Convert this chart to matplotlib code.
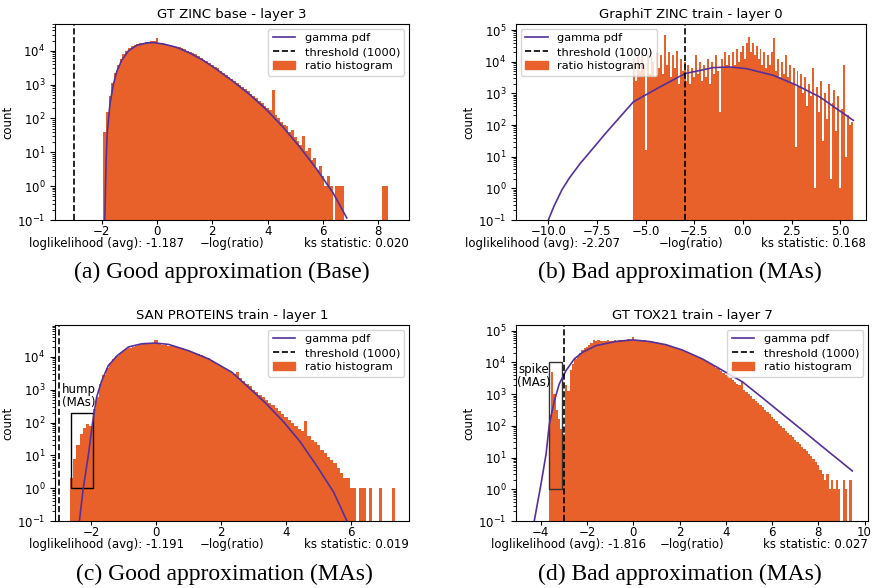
import numpy as np
import matplotlib
matplotlib.use("Agg")
import matplotlib.pyplot as plt
from matplotlib.patches import Rectangle, Patch
from matplotlib.lines import Line2D

# --- Histogram counts (bins of width 0.1, first bin centre given) ---
BIN_W = 0.1

a_first = -1.9
a_counts = [40, 150, 450, 1100, 2200, 3800, 5800, 8000, 10000, 12000,
            13500, 15000, 16000, 17000, 17500, 18000, 18500, 19000, 19500, 24000,
            17400, 16600, 15800, 15100, 14500, 13800, 13200, 12600, 11700, 11000,
            10000, 9300, 8500, 7800, 6900, 6200, 5500, 4900, 4400, 3800,
            3300, 3000, 2600, 2200, 1950, 1700, 1500, 1300, 1120, 980,
            830, 720, 630, 540, 460, 390, 330, 280, 240, 200,
            175, 700, 130, 100, 80, 65, 60, 40, 45, 28,
            22, 16, 30, 11, 13, 6, 7, 3, 4, 2,
            1, 2, 1, 0, 1, 1, 1, 0, 0, 0,
            0, 0, 0, 0, 0, 0, 0, 0, 0, 0,
            0, 1, 1]

b_first = -5.6
b_counts = [12600, 2500, 15800, 5000, 20000, 7900, 16, 15800, 4000, 20000,
            10000, 3200, 20000, 6300, 15800, 4000, 71000, 7900, 20000, 3200,
            15800, 6300, 22400, 2000, 12600, 5000, 10000, 2500, 7900, 2000,
            6300, 3200, 15800, 4000, 10000, 2500, 7900, 3200, 12600, 2000,
            10000, 4000, 15800, 5000, 250, 12600, 6300, 20000, 7900, 15800,
            6300, 20000, 7900, 25100, 10000, 20000, 31600, 12600, 39800, 60300,
            20000, 39800, 15800, 31600, 12600, 25100, 7900, 20000, 6300, 15800,
            7900, 20000, 56200, 5000, 12600, 3200, 10000, 4000, 15800, 3200,
            7900, 2000, 6300, 20, 5000, 1600, 4000, 1000, 3200, 400,
            2000, 800, 6300, 1, 1600, 250, 2500, 32, 1000, 160,
            2000, 2, 500, 1260, 63, 800, 1, 320, 7900, 10,
            200, 100, 126]

c_first = -2.6
c_counts = [2, 8, 20, 45, 70, 90, 80, 250, 600, 1500,
            2800, 4500, 6500, 8500, 10500, 13000, 15500, 17000, 19000, 20500,
            22000, 23000, 24000, 24500, 25000, 25500, 32000, 24000, 23000, 22500,
            21500, 21000, 20000, 19000, 18000, 16500, 15500, 14000, 13000, 12000,
            11000, 10000, 9000, 8000, 7000, 6200, 5400, 4700, 4100, 3600,
            3100, 3500, 2200, 1800, 1500, 1250, 1000, 850, 700, 580,
            480, 400, 330, 270, 220, 180, 150, 120, 100, 80,
            65, 55, 110, 40, 30, 25, 20, 15, 12, 9,
            7, 6, 4, 3, 2, 2, 1, 1, 0, 1,
            1, 0, 1, 0, 0, 1, 0, 0, 0, 1]

d_first = -3.6
d_counts = [220, 5000, 1000, 320, 160, 80, 56, 2000, 1260, 5600,
            8900, 12600, 15800, 20000, 25100, 28200, 31600, 35500, 39800, 52500,
            47900, 50100, 45700, 47900, 45700, 50100, 47900, 49000, 50100, 47900,
            51300, 50100, 52500, 50100, 53700, 50100, 63100, 52500, 50100, 51300,
            49000, 50100, 47900, 46800, 45700, 44700, 42700, 41700, 39800, 38000,
            37200, 35500, 33100, 31600, 29500, 28200, 26300, 25100, 23400, 21900,
            20000, 18600, 17400, 15800, 14800, 13500, 12600, 11500, 10500, 9500,
            8500, 7600, 6800, 6000, 5200, 4700, 4100, 3600, 3200, 2800,
            2400, 2100, 2000, 2500, 1400, 1200, 1000, 850, 720, 620,
            520, 450, 380, 320, 270, 230, 190, 160, 140, 115,
            98, 83, 71, 60, 50, 43, 36, 30, 26, 22,
            18, 16, 13, 11, 9, 7, 6, 4, 3, 2,
            3, 1, 2, 1, 2, 1, 0, 2, 1, 0,
            2]

# --- Fitted gamma pdf ---
a_gamma_x = [-1.89, -1.84, -1.80, -1.70, -1.58, -1.46, -1.28, -1.04, -0.73, -0.37,
             -0.13, 0.23, 0.71, 1.19, 1.67, 2.16, 2.76, 3.36, 3.96, 4.57,
             5.17, 5.77, 6.37, 6.86]
a_gamma_y = [0.1, 6.3, 40, 280, 1000, 2400, 5200, 9800, 14500, 17000,
             17400, 15800, 12600, 8500, 5200, 2800, 1230, 500, 180, 54,
             14, 3.2, 0.62, 0.115]

b_gamma_x = [-10.0, -9.7, -9.3, -8.9, -8.37, -7.0, -5.63, -4.26, -2.98, -1.52,
             -0.67, 0.19, 1.56, 2.76, 3.96, 5.67]
b_gamma_y = [0.1, 0.28, 0.9, 2.2, 6.0, 60, 540, 1600, 4200, 6500,
             6800, 6000, 3700, 1800, 760, 140]

c_gamma_x = [-2.36, -2.24, -2.08, -1.96, -1.83, -1.67, -1.47, -1.19, -0.85, -0.44,
             -0.03, 0.38, 0.99, 1.61, 2.33, 2.99, 3.41, 3.92, 4.43, 4.94,
             5.46, 5.87]
c_gamma_y = [0.1, 1.0, 10.7, 89, 590, 1900, 5400, 11000, 20000, 25000,
             26300, 24000, 15500, 8700, 3400, 870, 355, 105, 26, 4.8,
             0.76, 0.1]

d_gamma_x = [-4.28, -3.99, -3.77, -3.63, -3.41, -3.20, -2.91, -2.55, -2.19, -1.61,
             -0.75, -0.03, 0.69, 1.41, 2.13, 2.99, 3.86, 4.72, 5.59, 6.45,
             7.32, 8.18, 9.47]
d_gamma_y = [0.1, 1.45, 12.9, 112, 620, 2100, 5500, 12900, 20900, 33900,
             45700, 51300, 45700, 36300, 24500, 12900, 5600, 2450, 760, 235,
             72, 22, 3.8]

titles = ["GT ZINC base - layer 3", "GraphiT ZINC train - layer 0",
          "SAN PROTEINS train - layer 1", "GT TOX21 train - layer 7"]
loglik = ["-1.187", "-2.207", "-1.191", "-1.816"]
ks_stat = ["0.020", "0.168", "0.019", "0.027"]
captions = ["(a) Good approximation (Base)", "(b) Bad approximation (MAs)",
            "(c) Good approximation (MAs)", "(d) Bad approximation (MAs)"]

THRESHOLD = -3.0
HIST_COLOR = "#e9612a"
GAMMA_COLOR = "#55309a"
FS = 8.5


def draw_panel(ax, first, counts, gx, gy, title, ll, ks, xlim, ylim, xticks,
               leg_loc, left_txt_x):
    counts = np.asarray(counts, dtype=float)
    left_edges = first - BIN_W / 2 + BIN_W * np.arange(len(counts))
    ax.set_yscale("log")
    ax.bar(left_edges, counts, width=BIN_W, align="edge", color=HIST_COLOR,
           linewidth=0)
    ax.plot(gx, gy, color=GAMMA_COLOR, lw=1.2)
    ax.axvline(THRESHOLD, color="black", linestyle="--", lw=1.2)

    ax.set_xlim(*xlim)
    ax.set_ylim(*ylim)
    ax.set_xticks(xticks)
    ax.tick_params(labelsize=FS)
    ax.tick_params(axis="x", which="major", length=3, pad=0.5)
    ax.set_title(title, fontsize=9.5, pad=4)
    ax.set_ylabel("count", fontsize=FS, labelpad=2)

    handles = [Line2D([], [], color=GAMMA_COLOR, lw=1.2),
               Line2D([], [], color="black", linestyle="--", lw=1.2),
               Patch(color=HIST_COLOR)]
    ax.legend(handles, ["gamma pdf", "threshold (1000)", "ratio histogram"],
              loc=leg_loc, fontsize=8.2, labelspacing=0.35, borderaxespad=0.4)

    # statistics row under the axis
    ax.text(left_txt_x, -0.118, f"loglikelihood (avg): {ll}", transform=ax.transAxes,
            ha="left", va="center", fontsize=FS)
    ax.text(0.5, -0.118, "\u2212log(ratio)", transform=ax.transAxes,
            ha="center", va="center", fontsize=FS)
    ax.text(1.0, -0.118, f"ks statistic: {ks}", transform=ax.transAxes,
            ha="right", va="center", fontsize=FS)


W, H = 872, 588
fig = plt.figure(figsize=(W / 100, H / 100), dpi=100)

ax_a = fig.add_axes([55 / W, 1 - 220 / H, 354 / W, 196 / H])
ax_b = fig.add_axes([516 / W, 1 - 220 / H, 350 / W, 196 / H])
ax_c = fig.add_axes([55 / W, 1 - 521 / H, 354 / W, 196 / H])
ax_d = fig.add_axes([516 / W, 1 - 521 / H, 352 / W, 196 / H])

draw_panel(ax_a, a_first, a_counts, a_gamma_x, a_gamma_y, titles[0], loglik[0], ks_stat[0],
           (-3.69, 9.11), (0.1, 10 ** 4.79), [-2, 0, 2, 4, 6, 8], "upper right", -0.073)
draw_panel(ax_b, b_first, b_counts, b_gamma_x, b_gamma_y, titles[1], loglik[1], ks_stat[1],
           (-11.66, 6.32), (0.1, 10 ** 5.19), [-10, -7.5, -5, -2.5, 0, 2.5, 5], "upper left", -0.146)
draw_panel(ax_c, c_first, c_counts, c_gamma_x, c_gamma_y, titles[2], loglik[2], ks_stat[2],
           (-3.11, 7.78), (0.1, 10 ** 4.97), [-2, 0, 2, 4, 6], "upper right", -0.073)
draw_panel(ax_d, d_first, d_counts, d_gamma_x, d_gamma_y, titles[3], loglik[3], ks_stat[3],
           (-5.07, 10.15), (0.1, 10 ** 5.18), [-4, -2, 0, 2, 4, 6, 8, 10], "upper right", -0.071)

# annotation boxes marking the massive activations
ax_c.add_patch(Rectangle((-2.62, 1), 0.67, 199, fill=False, edgecolor="black", lw=1))
ax_c.text(-2.39, 250, "hump\n(MAs)", ha="center", va="bottom", fontsize=FS, linespacing=1.0)
ax_d.add_patch(Rectangle((-3.66, 1), 0.58, 9999, fill=False, edgecolor="#333333", lw=1))
ax_d.text(-4.32, 3800, "spike\n(MAs)", ha="center", va="center", fontsize=FS, linespacing=1.0)

# sub-figure captions
cap_pos = [(222, 272), (680, 272), (224, 574), (680, 574)]
for (cx, cy), cap in zip(cap_pos, captions):
    fig.text(cx / W, 1 - cy / H, cap, ha="center", va="center",
             fontsize=17, family="Liberation Serif")

fig.savefig("out.png", dpi=100)
